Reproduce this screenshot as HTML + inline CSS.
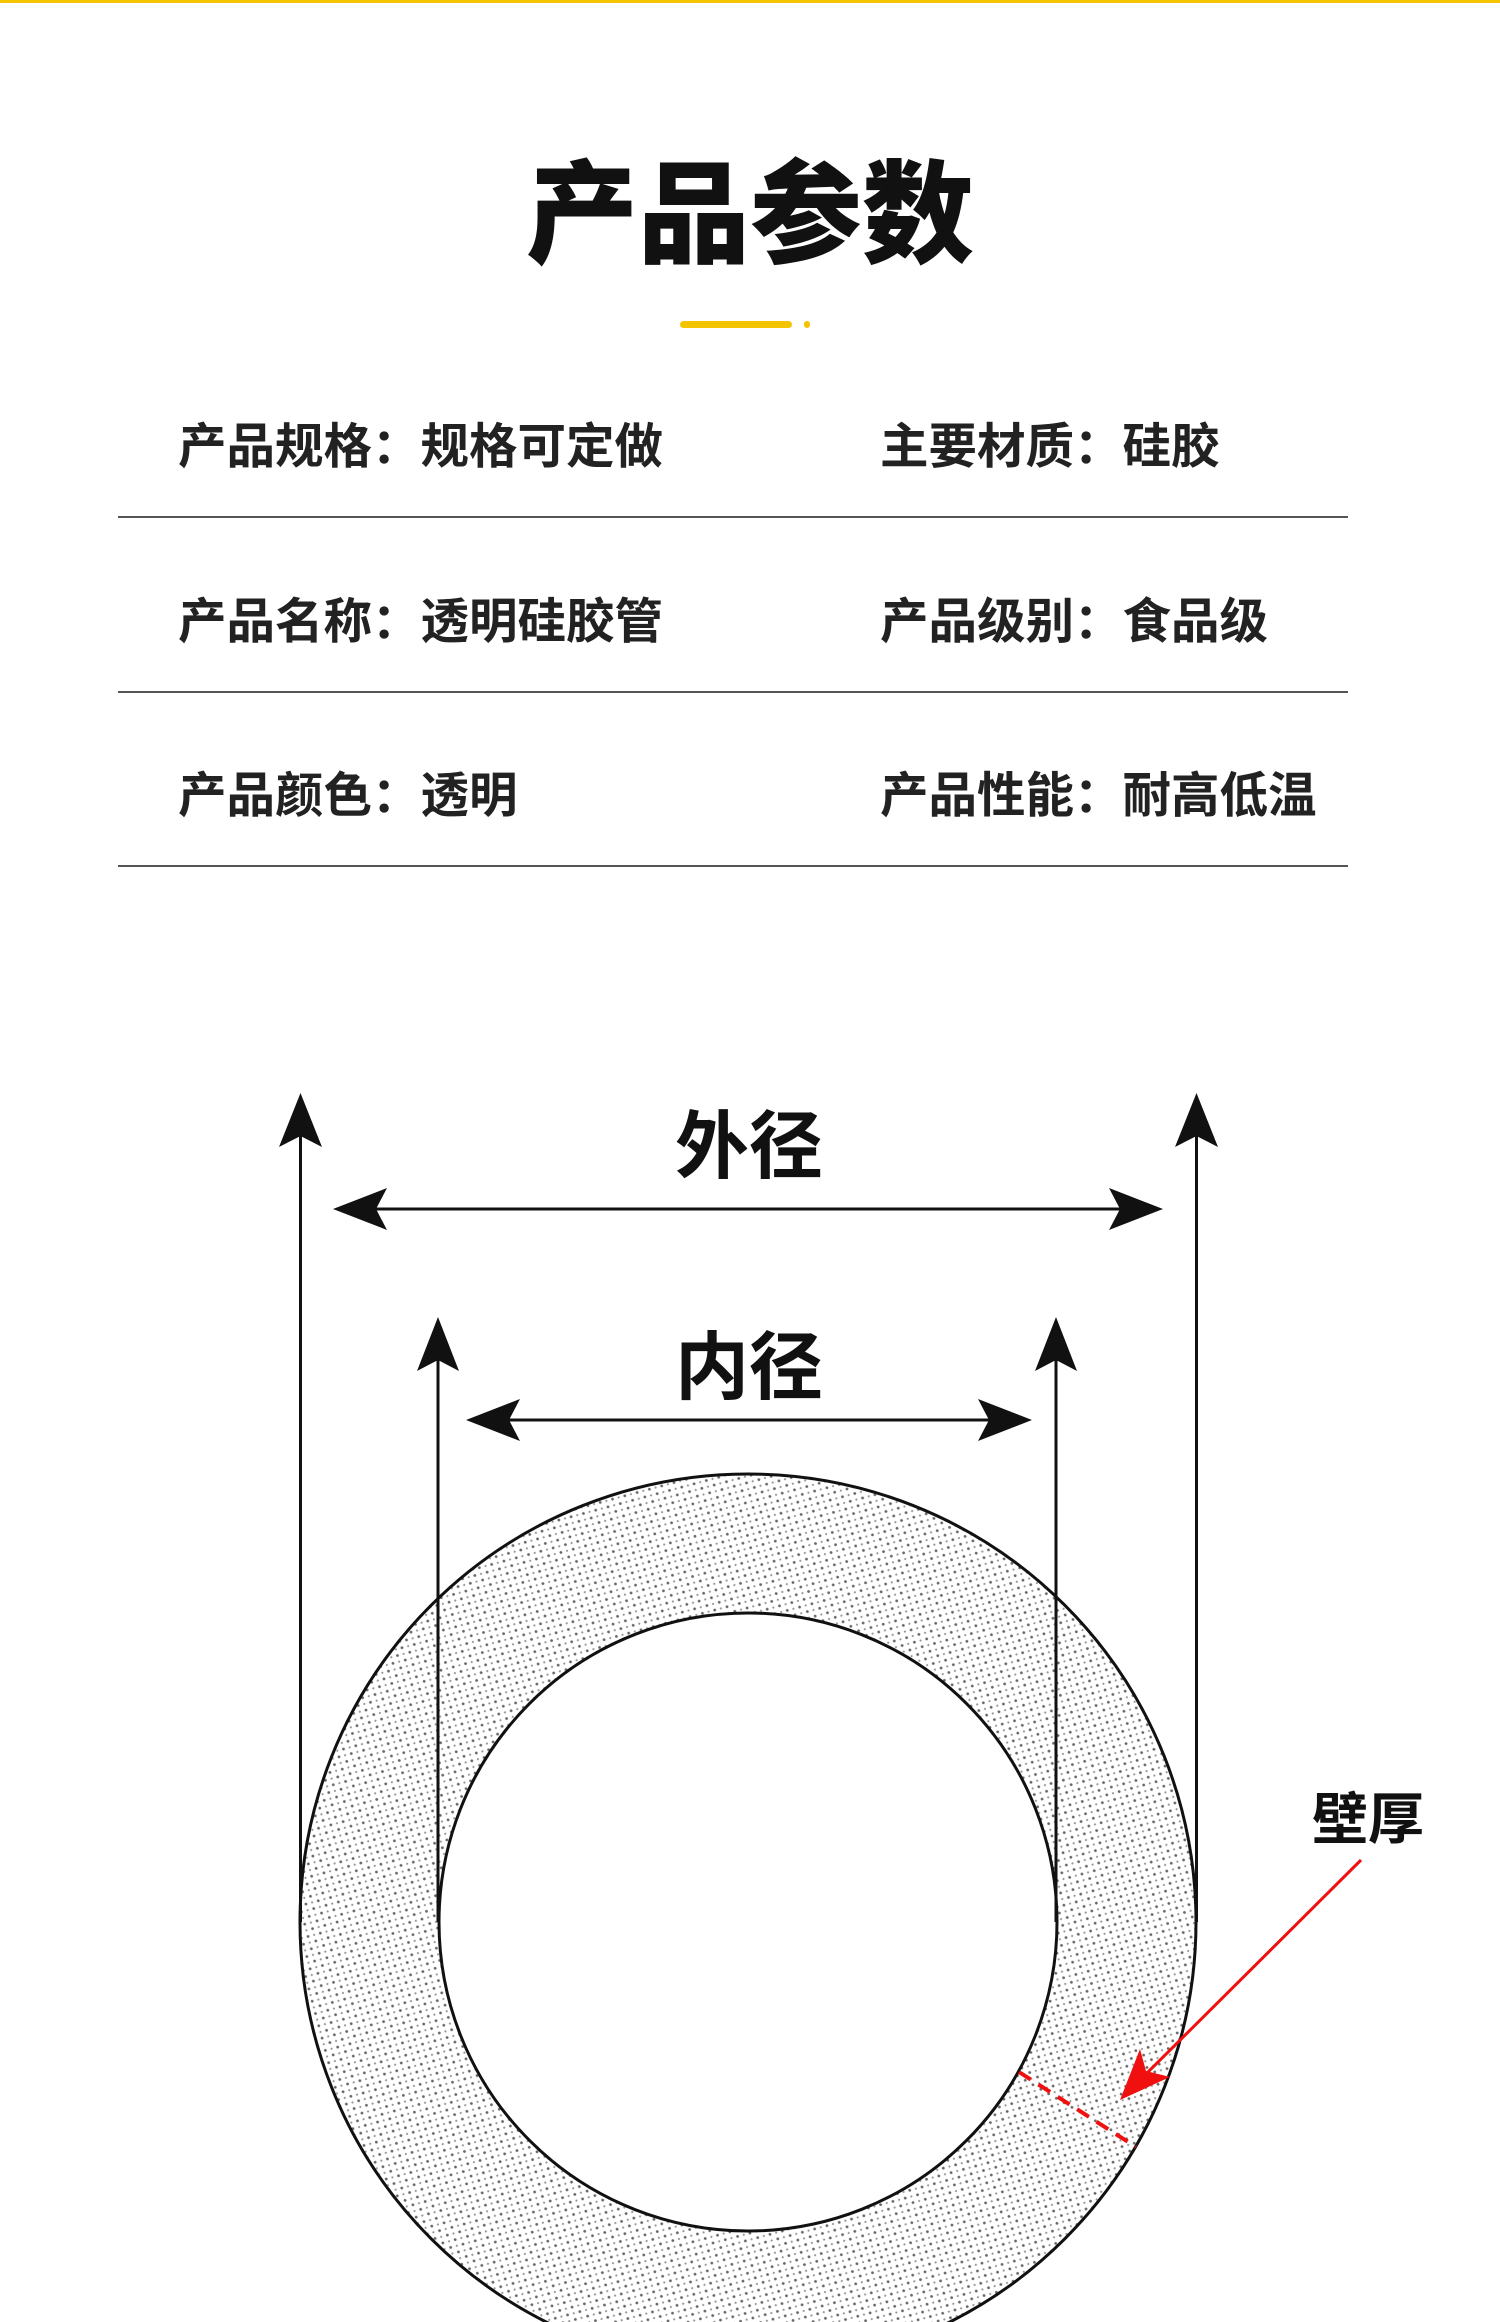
<!DOCTYPE html>
<html><head><meta charset="utf-8"><style>
html,body{margin:0;padding:0;background:#fff;}
body{width:1500px;height:2322px;overflow:hidden;position:relative;font-family:"Liberation Sans","Noto Sans CJK SC",sans-serif;}
</style></head><body>
<svg width="1500" height="2322" viewBox="0 0 1500 2322" xmlns="http://www.w3.org/2000/svg" style="position:absolute;left:0;top:0">
<defs>
<pattern id="dots" width="9" height="9" patternUnits="userSpaceOnUse" patternTransform="rotate(30)">
<circle cx="2" cy="2" r="1.4" fill="#666"/>
<circle cx="6.5" cy="6.5" r="1.1" fill="#999"/>
</pattern>
</defs>
<rect x="0" y="0" width="1500" height="3" fill="#f5c400"/>
<text x="750" y="254" text-anchor="middle" font-family="Liberation Sans,Noto Sans CJK SC,sans-serif" font-weight="900" font-size="112" fill="#111">产品参数</text>
<rect x="680" y="321" width="112" height="7" rx="3.5" fill="#f5c400"/>
<rect x="804" y="321" width="6" height="7" rx="3" fill="#f5c400"/>
<g font-family="Liberation Sans,Noto Sans CJK SC,sans-serif" font-weight="700" font-size="48.5" fill="#222">
<text x="178" y="463">产品规格：规格可定做</text>
<text x="880" y="463">主要材质：硅胶</text>
<text x="178" y="638">产品名称：透明硅胶管</text>
<text x="880" y="638">产品级别：食品级</text>
<text x="178" y="812">产品颜色：透明</text>
<text x="880" y="812">产品性能：耐高低温</text>
</g>
<g fill="#555">
<rect x="118" y="516" width="1230" height="2"/>
<rect x="118" y="691" width="1230" height="2"/>
<rect x="118" y="865" width="1230" height="2"/>
</g>
<circle cx="748" cy="1922" r="448" fill="url(#dots)" stroke="#111" stroke-width="3"/>
<circle cx="748" cy="1922" r="309" fill="#fff" stroke="#111" stroke-width="3"/>
<g stroke="#111" stroke-width="3">
<line x1="300.5" y1="1120" x2="300.5" y2="1922"/>
<line x1="1196.5" y1="1120" x2="1196.5" y2="1922"/>
<line x1="438" y1="1345" x2="438" y2="1922"/>
<line x1="1056" y1="1345" x2="1056" y2="1922"/>
<line x1="355" y1="1209" x2="1140" y2="1209"/>
<line x1="490" y1="1420" x2="1010" y2="1420"/>
</g>
<g fill="#111">
<polygon points="300.5,1093 279,1147 300.5,1136 322,1147"/>
<polygon points="1196.5,1093 1175,1147 1196.5,1136 1218,1147"/>
<polygon points="438,1317 417,1371 438,1360 459,1371"/>
<polygon points="1056,1317 1035,1371 1056,1360 1077,1371"/>
<polygon points="333,1209 387,1188 376,1209 387,1230"/>
<polygon points="1163,1209 1109,1188 1120,1209 1109,1230"/>
<polygon points="466,1420 520,1399 509,1420 520,1441"/>
<polygon points="1032,1420 978,1399 989,1420 978,1441"/>
</g>
<g font-family="Liberation Sans,Noto Sans CJK SC,sans-serif" font-weight="700" font-size="74" fill="#111" text-anchor="middle">
<text x="749" y="1172">外径</text>
<text x="749" y="1393">内径</text>
</g>
<text x="1368" y="1839" text-anchor="middle" font-family="Liberation Sans,Noto Sans CJK SC,sans-serif" font-weight="700" font-size="56" fill="#111">壁厚</text>
<line x1="1361" y1="1860" x2="1140" y2="2080" stroke="#f01010" stroke-width="3"/>
<polygon points="1120,2100 1140,2049 1146,2071 1170,2077" fill="#f01010"/>
<line x1="1019" y1="2072" x2="1136" y2="2147" stroke="#f01010" stroke-width="4" stroke-dasharray="14,9"/>
</svg>
</body></html>
